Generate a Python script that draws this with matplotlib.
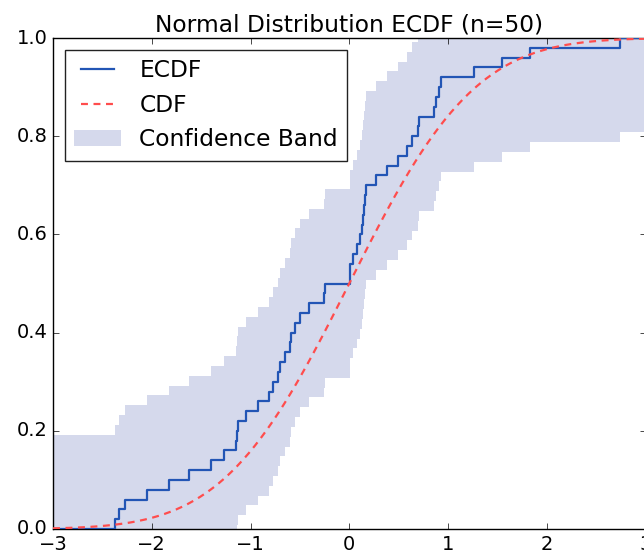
import math
import numpy as np
import matplotlib
matplotlib.use("Agg")
import matplotlib.pyplot as plt

plt.style.use("classic")
plt.rcParams["font.family"] = ["DejaVu Sans"]
plt.rcParams["font.size"] = 14

# sorted sample values read from the ECDF steps
samples = [
    -2.372, -2.331, -2.270, -2.050, -1.821, -1.619, -1.399, -1.267,
    -1.150, -1.140, -1.130, -1.050, -0.920, -0.810, -0.770, -0.720,
    -0.700, -0.650, -0.600, -0.590, -0.550, -0.500, -0.410, -0.255,
    -0.250,
    0.005, 0.012, 0.037, 0.077, 0.111, 0.130, 0.140, 0.150, 0.155,
    0.165, 0.270, 0.378, 0.490, 0.585, 0.635, 0.700, 0.710, 0.858,
    0.880, 0.905, 0.925, 1.265, 1.547, 1.827, 2.739,
]
title = "Normal Distribution ECDF (n=50)"
labels = ["ECDF", "CDF", "Confidence Band"]
alpha_level = 0.05

xs = np.sort(np.array(samples))
n = len(xs)
x_lo, x_hi = -3.0, 3.0

step_x = np.concatenate([[x_lo], xs, [x_hi]])
step_y = np.concatenate([[0.0], np.arange(1, n + 1) / n, [1.0]])

eps = math.sqrt(math.log(2 / alpha_level) / (2 * n))
lower = np.clip(step_y - eps, 0, 1)
upper = np.clip(step_y + eps, 0, 1)

grid = np.linspace(x_lo, x_hi, 400)
cdf = np.array([0.5 * (1 + math.erf(v / math.sqrt(2))) for v in grid])

fig = plt.figure(figsize=(6.44, 5.58), dpi=100, facecolor="white")
ax = fig.add_axes([53 / 644, 29 / 558, 592.5 / 644, 491 / 558])

ax.fill_between(step_x, lower, upper, step="post", color="#d5d9ec",
                linewidth=0, label=labels[2], zorder=1)
ax.step(step_x, step_y, where="post", color="#2255b5", linewidth=1.6,
        label=labels[0], zorder=3)
ax.plot(grid, cdf, color="#ff4d4d", linestyle="--", linewidth=1.6,
        dashes=(5, 4), label=labels[1], zorder=4)

ax.set_xlim(x_lo, x_hi)
ax.set_ylim(0, 1)
ax.set_xticks([-3, -2, -1, 0, 1, 2, 3])
ax.set_yticks([0.0, 0.2, 0.4, 0.6, 0.8, 1.0])
ax.set_title(title, fontsize=16.8)

handles, labs = ax.get_legend_handles_labels()
order = [labs.index(l) for l in labels]
leg = ax.legend([handles[i] for i in order], [labs[i] for i in order],
                loc="upper left", fontsize=16.8, fancybox=False)
leg.get_frame().set_edgecolor("#222222")

fig.savefig("out.png", dpi=100, facecolor="white")
